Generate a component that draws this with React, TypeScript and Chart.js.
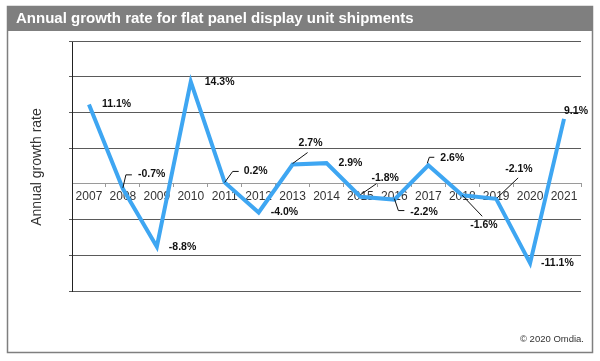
import React, { useEffect, useRef } from "react";
import { Chart, registerables } from "chart.js";

Chart.register(...registerables);

const years = ["2007", "2008", "2009", "2010", "2011", "2012", "2013", "2014", "2015", "2016", "2017", "2018", "2019", "2020", "2021"];
const growth = [11.1, -0.7, -8.8, 14.3, 0.2, -4.0, 2.7, 2.9, -1.8, -2.2, 2.6, -1.6, -2.1, -11.1, 9.1];
const yMin = -15;
const yMax = 20;
const yStep = 5;

const titleText = "Annual growth rate for flat panel display unit shipments";
const yTitle = "Annual growth rate";
const sourceText = "\u00A9 2020 Omdia.";

// label placement relative to each point (text left-aligned), optional leader polyline
const labelPlacement: { dx: number; dy: number; leader?: number[][] }[] = [
  { dx: 13, dy: 0 },
  { dx: 15, dy: -15, leader: [[0, -1], [3, -14], [9, -14]] },
  { dx: 12, dy: 0 },
  { dx: 14, dy: 0 },
  { dx: 19, dy: -11, leader: [[0, 0], [8, -11], [14, -11]] },
  { dx: 12, dy: 0 },
  { dx: 6, dy: -21, leader: [[0, -1], [15, -12]] },
  { dx: 12, dy: 0 },
  { dx: 11, dy: -19, leader: [[0, -2], [16, -13]] },
  { dx: 16, dy: 13, leader: [[0, -1], [4, 11], [10, 11]] },
  { dx: 12, dy: -7, leader: [[-1, -2], [1, -8], [6, -8]] },
  { dx: 8, dy: 30, leader: [[0, 0], [20, 21]] },
  { dx: 9, dy: -30, leader: [[1, -1], [22, -21]] },
  { dx: 11, dy: 0 },
  { dx: 0, dy: -8 },
];

const FONT = "'Liberation Sans', Arial, sans-serif";

const framePlugin = {
  id: "frame",
  beforeDraw(chart: any) {
    const ctx = chart.ctx;
    ctx.save();
    ctx.fillStyle = "#ffffff";
    ctx.fillRect(0, 0, chart.width, chart.height);
    ctx.fillStyle = "#7f7f7f";
    ctx.fillRect(7, 6, 586, 25);
    ctx.strokeStyle = "#7f7f7f";
    ctx.lineWidth = 1.5;
    ctx.strokeRect(7.5, 6.5, 585, 346);
    ctx.fillStyle = "#ffffff";
    ctx.font = `bold 15px ${FONT}`;
    ctx.textBaseline = "middle";
    ctx.textAlign = "left";
    ctx.fillText(titleText, 16, 19);
    // y title
    ctx.save();
    ctx.translate(37, 167);
    ctx.rotate(-Math.PI / 2);
    ctx.fillStyle = "#333333";
    ctx.font = `14px ${FONT}`;
    ctx.textAlign = "center";
    ctx.fillText(yTitle, 0, 0);
    ctx.restore();
    // source
    ctx.fillStyle = "#333333";
    ctx.font = `9.5px ${FONT}`;
    ctx.textAlign = "right";
    ctx.fillText(sourceText, 584, 339);
    ctx.restore();
  },
  afterDraw(chart: any) {
    // top gridline of the plot area
    const ctx = chart.ctx;
    const a = chart.chartArea;
    const y = Math.round(a.top) + 0.5;
    ctx.save();
    ctx.strokeStyle = "#5a5a5a";
    ctx.lineWidth = 1;
    ctx.beginPath();
    ctx.moveTo(a.left - 3, y);
    ctx.lineTo(a.right, y);
    ctx.stroke();
    ctx.restore();
  },
};

const labelPlugin = {
  id: "pointLabels",
  afterDatasetsDraw(chart: any) {
    const ctx = chart.ctx;
    const meta = chart.getDatasetMeta(0);
    ctx.save();
    ctx.font = `bold 10.5px ${FONT}`;
    ctx.fillStyle = "#111111";
    ctx.strokeStyle = "#111111";
    ctx.lineWidth = 1;
    ctx.textBaseline = "middle";
    ctx.textAlign = "left";
    meta.data.forEach((pt: any, i: number) => {
      const p = labelPlacement[i];
      const v = growth[i];
      if (p.leader) {
        ctx.beginPath();
        p.leader.forEach((q, j) => {
          if (j === 0) ctx.moveTo(pt.x + q[0], pt.y + q[1]);
          else ctx.lineTo(pt.x + q[0], pt.y + q[1]);
        });
        ctx.stroke();
      }
      ctx.fillText(`${v.toFixed(1)}%`, pt.x + p.dx, pt.y + p.dy);
    });
    ctx.restore();
  },
};

export default function App() {
  const ref = useRef<HTMLCanvasElement>(null);
  useEffect(() => {
    if (!ref.current) return;
    const chart = new Chart(ref.current, {
      type: "line",
      data: {
        labels: years,
        datasets: [
          {
            data: growth,
            borderColor: "#3ea6f2",
            borderWidth: 4,
            pointRadius: 0,
            tension: 0,
            fill: false,
          },
        ],
      },
      options: {
        animation: false,
        responsive: false,
        maintainAspectRatio: false,
        layout: { padding: { left: 72, right: 19, top: 41, bottom: 70 } },
        plugins: {
          legend: { display: false },
          tooltip: { enabled: false },
          title: { display: false },
        },
        scales: {
          x: {
            type: "category",
            position: { y: 0 } as any,
            offset: true,
            grid: {
              offset: true,
              drawOnChartArea: false,
              drawTicks: true,
              tickLength: 3,
              color: "#9a9a9a",
            },
            border: { color: "#9a9a9a", width: 1 },
            ticks: {
              color: "#333333",
              font: { size: 12, family: FONT },
              padding: 3,
              maxRotation: 0,
              autoSkip: false,
            },
          },
          y: {
            min: yMin,
            max: yMax,
            ticks: { stepSize: yStep, display: false },
            grid: {
              color: (c: any) => (c.tick && c.tick.value === 0 ? "rgba(0,0,0,0)" : "#5a5a5a"),
              tickLength: 3,
              drawTicks: true,
            },
            border: { color: "#222222", width: 1 },
            afterFit: (s: any) => {
              s.width = 0;
            },
          },
        },
      },
      plugins: [framePlugin, labelPlugin],
    });
    return () => chart.destroy();
  }, []);
  return (
    <div style={{ position: "fixed", left: 0, top: 0, width: 600, height: 361 }}>
      <canvas ref={ref} width={600} height={361} style={{ width: 600, height: 361 }} />
    </div>
  );
}
